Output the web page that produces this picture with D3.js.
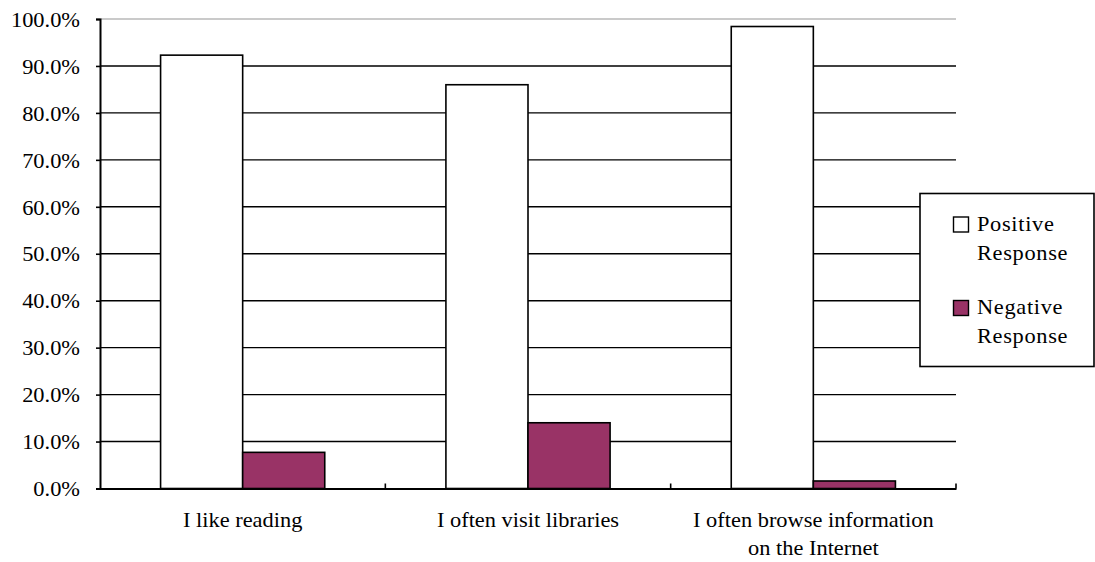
<!DOCTYPE html>
<html><head><meta charset="utf-8">
<script src="https://cdn.jsdelivr.net/npm/d3@7"></script>
<style>
html,body{margin:0;padding:0;background:#fff;}
svg text{font-family:"Liberation Serif","Times New Roman",serif;fill:#000;}
</style></head>
<body><svg id="c" width="1095" height="562"></svg>
<script>
const categories = [["I like reading"], ["I often visit libraries"], ["I often browse information", "on the Internet"]];
const seriesNames = ["Positive Response", "Negative Response"];
const positive = [92.3, 86.0, 98.4];
const negative = [7.7, 14.0, 1.6];
const yTicks = [0,10,20,30,40,50,60,70,80,90,100];
const colors = ["#ffffff", "#993366"];

const FONT = "Liberation Serif";
const FS = 20, SX = 1.12;
const svg = d3.select("#c");
const pLeft = 100, pRight = 956, pTop = 19, pBottom = 488.5;
const x = d3.scaleBand().domain(d3.range(categories.length)).range([pLeft, pRight]).paddingInner(0).paddingOuter(0);
const y = d3.scaleLinear().domain([0, 100]).range([pBottom, pTop]);
const inner = d3.scaleBand().domain([0,1]).range([0, x.bandwidth()]).paddingInner(0).paddingOuter(0.738);

// gridlines
svg.append("g").selectAll("line").data(yTicks.filter(d=>d>0)).join("line")
  .attr("x1", pLeft).attr("x2", pRight)
  .attr("y1", d=>y(d)).attr("y2", d=>y(d))
  .attr("stroke", d=> d===100 ? "#b8b8b8" : "#000")
  .attr("stroke-width", 1.4);

// bars
const series = [positive, negative];
series.forEach((vals, si) => {
  svg.append("g").selectAll("rect").data(vals).join("rect")
    .attr("x", (d,i)=> x(i) + inner(si))
    .attr("width", inner.bandwidth())
    .attr("y", d=>y(d))
    .attr("height", d=> pBottom - y(d))
    .attr("fill", colors[si])
    .attr("stroke", "#000").attr("stroke-width", 1.6);
});

// y axis
const yAxis = d3.axisLeft(y).tickValues(yTicks).tickSize(4).tickPadding(20)
  .tickFormat(d=> d3.format(".1f")(d) + "%");
const ya = svg.append("g").attr("transform", `translate(${pLeft},0)`).call(yAxis)
  .attr("font-family", FONT).attr("font-size", FS);
ya.select(".domain").attr("stroke","#000").attr("stroke-width",2);
ya.selectAll(".tick line").attr("stroke","#000").attr("stroke-width",1.6);
ya.selectAll(".tick text").attr("fill","#000").attr("dy","0.36em")
  .attr("x", 0).attr("transform", `translate(-20,0) scale(${SX},1)`);

// x axis
const xAxis = d3.axisBottom(x).tickSize(0).tickFormat("");
const xa = svg.append("g").attr("transform", `translate(0,${pBottom})`).call(xAxis);
xa.select(".domain").attr("stroke","#000").attr("stroke-width",2);
// boundary ticks (inside)
svg.append("g").selectAll("line").data(d3.range(1, categories.length+1)).join("line")
  .attr("x1", i => i < categories.length ? x(i) : pRight).attr("x2", i => i < categories.length ? x(i) : pRight)
  .attr("y1", pBottom).attr("y2", pBottom-5).attr("stroke","#000").attr("stroke-width",1.6);

// x labels
const lbl = svg.append("g").attr("font-family", FONT).selectAll("text").data(categories).join("text")
  .attr("text-anchor","middle").attr("font-size", FS)
  .attr("transform", (d,i)=> `translate(${x(i)+x.bandwidth()/2},527) scale(${SX},1)`);
lbl.selectAll("tspan").data(d=>d).join("tspan").attr("x",0).attr("dy",(d,i)=> i===0?0:28).text(d=>d);

// legend
const lg = svg.append("g").attr("font-family", FONT);
lg.append("rect").attr("x",920).attr("y",193.5).attr("width",174).attr("height",173)
  .attr("fill","#fff").attr("stroke","#000").attr("stroke-width",1.6);
seriesNames.forEach((name, i) => {
  const yy = 217 + i*83.5;
  lg.append("rect").attr("x",953.5).attr("y",yy).attr("width",15).attr("height",15)
    .attr("fill",colors[i]).attr("stroke","#000").attr("stroke-width",1.4);
  const words = name.split(" ");
  const t = lg.append("text").attr("font-size",FS).attr("letter-spacing",0.6)
    .attr("transform", `translate(977,${yy+13.5}) scale(${SX},1)`);
  words.forEach((w, j) => t.append("tspan").attr("x",0).attr("dy", j===0?0:29.5).text(w));
});
</script></body></html>
